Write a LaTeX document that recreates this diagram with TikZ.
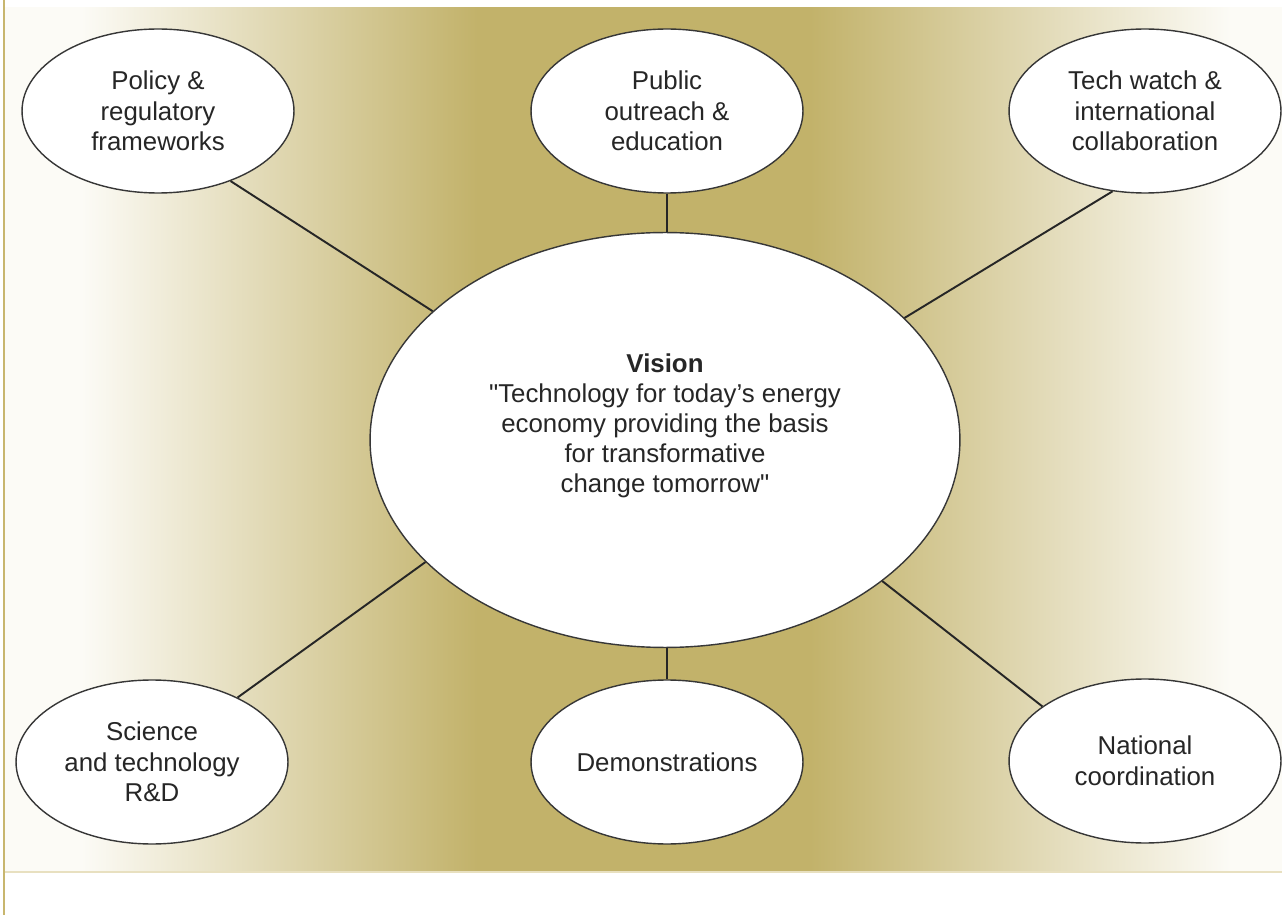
\documentclass[tikz,border=0pt]{standalone}
\usepackage{fontspec}
\setmainfont{Liberation Sans}
\usetikzlibrary{shapes.geometric}

\definecolor{bggold}{RGB}{194,178,106}
\definecolor{bgpale}{RGB}{252,251,246}
\definecolor{rimgold}{RGB}{200,182,110}
\definecolor{rimline}{RGB}{232,224,192}
\definecolor{ovalline}{RGB}{55,55,55}
\pgfdeclarehorizontalshading{goldband}{100bp}{color(0bp)=(bgpale); color(28bp)=(bgpale); color(43.5bp)=(bggold); color(56.5bp)=(bggold); color(73bp)=(bgpale); color(100bp)=(bgpale)}

\begin{document}
\begin{tikzpicture}[x=0.02cm, y=-0.02cm,
  area/.style={ellipse, draw=ovalline, line width=0.8pt, fill=white, align=center, inner sep=0pt, minimum width=5.44cm, minimum height=3.28cm, font=\fontsize{14.7pt}{17.4pt}\selectfont, text=black!85},
  hub/.style={area, minimum width=11.8cm, minimum height=8.3cm, text depth=19pt, font=\fontsize{14.7pt}{17pt}\selectfont},
  link/.style={line width=1.1pt, black!85}]

\useasboundingbox (0,0) rectangle (1282,915);
\shade[shading=goldband] (5,8) rectangle (1282,872);
\draw[rimline, line width=1pt] (5,872) -- (1282,872);
\draw[rimgold, line width=1.2pt] (4,0) -- (4,915);

\node [hub] (vision) at (665,440) {\textbf{Vision}\\\textquotedbl Technology for today’s energy\\economy providing the basis\\for transformative\\change tomorrow\textquotedbl};

\node [area] (policy) at (158,111) {Policy \&\\regulatory\\frameworks};
\node [area] (outreach) at (667,111) {Public\\outreach \&\\education};
\node [area] (techwatch) at (1145,111) {Tech watch \&\\international\\collaboration};
\node [area] (science) at (152,762) {Science\\and technology\\R\&D};
\node [area] (demos) at (667,762) {Demonstrations};
\node [area] (national) at (1145,761) {National\\coordination};

\draw [link] (policy.-44) -- (vision.151);
\draw [link] (techwatch.-112) -- (vision.27);
\draw [link] (science.37) -- (vision.-153);
\draw [link] (national.152) -- (vision.-33);
\draw [link] (outreach.south) -- (outreach.south |- vision.north);
\draw [link] (demos.north) -- (demos.north |- vision.south);

\end{tikzpicture}
\end{document}
